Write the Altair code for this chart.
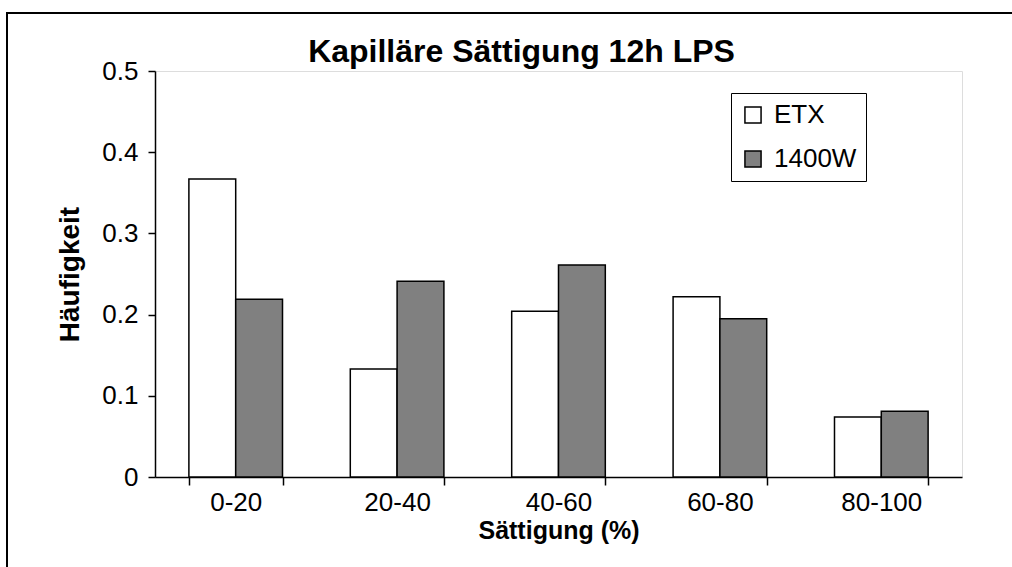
import altair as alt
import pandas as pd

categories = ["0-20", "20-40", "40-60", "60-80", "80-100"]
series = ["ETX", "1400W"]
etx = [0.367, 0.133, 0.204, 0.222, 0.074]
w1400 = [0.219, 0.241, 0.261, 0.195, 0.081]
y_ticks = [0, 0.1, 0.2, 0.3, 0.4, 0.5]
title_text = "Kapilläre Sättigung 12h LPS"

rows = []
for c, a, b in zip(categories, etx, w1400):
    rows.append({"cat": c, "series": "ETX", "value": a})
    rows.append({"cat": c, "series": "1400W", "value": b})
df = pd.DataFrame(rows)

FONT = "Liberation Sans"

bars = alt.Chart(df).mark_bar(stroke="black", strokeWidth=1.5).encode(
    x=alt.X("cat:N", sort=categories,
            scale=alt.Scale(paddingInner=0.42, paddingOuter=0.21),
            axis=alt.Axis(title="Sättigung (%)", labelAngle=0, labelFontSize=26,
                          labelColor="black", titleFontSize=25, titleColor="black",
                          titleFontWeight="bold", domainColor="black", domainWidth=1.5,
                          tickColor="black", tickWidth=1.5, tickSize=8, tickBand="extent",
                          labelPadding=4, titlePadding=3, labelFont=FONT, titleFont=FONT)),
    xOffset=alt.XOffset("series:N", sort=series,
                        scale=alt.Scale(paddingInner=0, paddingOuter=0)),
    y=alt.Y("value:Q", scale=alt.Scale(domain=[0, 0.5], nice=False),
            axis=alt.Axis(title="Häufigkeit", values=y_ticks, grid=False,
                          labelExpr="datum.value == 0 ? '0' : format(datum.value, '.1f')",
                          labelFontSize=26, labelColor="black", titleFontSize=28,
                          titleColor="black", titleFontWeight="bold",
                          domainColor="black", domainWidth=1.5, tickColor="black",
                          tickWidth=1.5, tickSize=7, labelPadding=10, titlePadding=17,
                          labelFont=FONT, titleFont=FONT)),
    color=alt.Color("series:N", sort=series,
                    scale=alt.Scale(domain=series, range=["#ffffff", "#808080"]),
                    legend=alt.Legend(title=None, orient="none", legendX=576, legendY=22,
                                      strokeColor="black", padding=9, symbolType="square",
                                      symbolSize=260, symbolStrokeColor="black",
                                      symbolStrokeWidth=1.5, labelFontSize=26,
                                      labelColor="black", labelFont=FONT, rowPadding=18,
                                      labelOffset=8)),
)

title = alt.Chart(alt.Data(values=[{"t": title_text}])).mark_text(
    font=FONT, fontSize=32, fontWeight="bold", color="black",
    align="center", baseline="alphabetic"
).encode(
    x=alt.value(366.5), y=alt.value(-9), text="t:N"
)

border = alt.Chart(alt.Data(values=[{"a": 1}])).mark_rect(
    fillOpacity=0, stroke="black", strokeWidth=2
).encode(
    x=alt.value(-148), x2=alt.value(900), y=alt.value(-58), y2=alt.value(600)
)

chart = alt.layer(bars, title, border).properties(
    width=807, height=406,
    autosize=alt.AutoSizeParams(type="none"),
    padding={"left": 155, "top": 71, "right": 50, "bottom": 90},
).configure_view(stroke=None).configure(font=FONT)

chart.save("out.html", embed_options={"renderer": "svg", "actions": False})
